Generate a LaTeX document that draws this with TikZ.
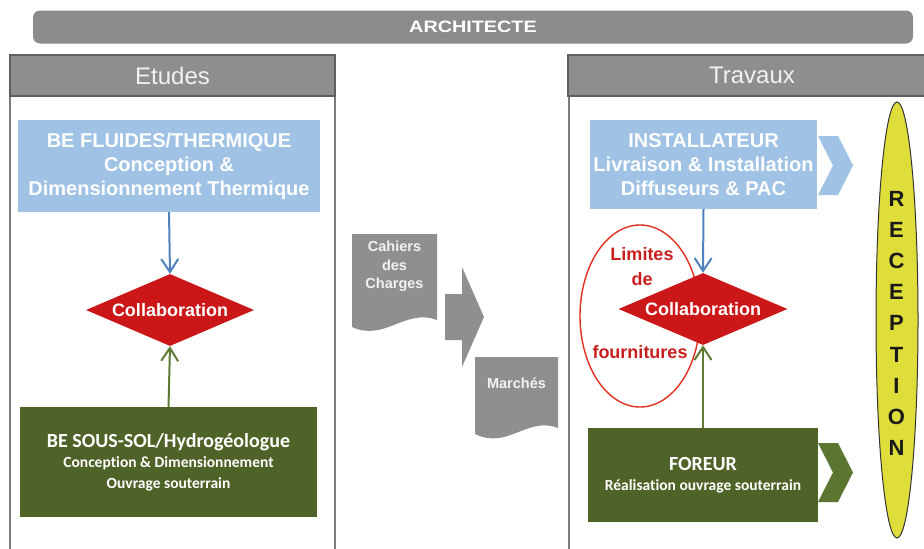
\documentclass[tikz,border=0pt]{standalone}
\usepackage{fontspec}
\usepackage{graphicx}
\setmainfont{Liberation Sans}
\newfontfamily\carlito[Ligatures=NoCommon]{Carlito}
\usetikzlibrary{shapes.geometric,arrows.meta}
\definecolor{bargray}{HTML}{8C8C8C}
\definecolor{hdrgray}{HTML}{8E8E8E}
\definecolor{hdredge}{HTML}{5E5E5E}
\definecolor{panelline}{HTML}{7A7A7A}
\definecolor{lblue}{HTML}{9FC2E5}
\definecolor{dgreen}{HTML}{4F6328}
\definecolor{chevgreen}{HTML}{5B7631}
\definecolor{dred}{HTML}{CC1719}
\definecolor{arrblue}{HTML}{4F81BD}
\definecolor{arrgreen}{HTML}{5F7A32}
\definecolor{ellred}{HTML}{E0301E}
\definecolor{txtred}{HTML}{C8201E}
\definecolor{docgray}{HTML}{8F8F8F}
\definecolor{doctext}{HTML}{F2F2F2}
\definecolor{recyellow}{HTML}{DEDD3A}
\newcommand{\fsz}[2]{\fontsize{#1}{#2}\selectfont}
\begin{document}
\begin{tikzpicture}[x=1pt,y=-1pt,
  topbar/.style={rectangle, rounded corners=7pt, fill=bargray, text=white,
    minimum width=880pt, minimum height=33pt, inner sep=0pt,
    font=\bfseries\fsz{16.5}{20}},
  hdr/.style={rectangle, fill=hdrgray, draw=hdredge, line width=1.2pt,
    text=doctext, minimum height=41pt, inner sep=0pt, font=\fsz{24}{28}},
  panel/.style={draw=panelline, line width=1.5pt},
  bluebox/.style={rectangle, fill=lblue, text=white, align=center,
    inner sep=0pt, font=\bfseries\fsz{20}{24}},
  greenbox/.style={rectangle, fill=dgreen, text=white, align=center,
    inner sep=0pt, font=\carlito\bfseries\fsz{15.5}{20.5}},
  collab/.style={diamond, fill=dred, text=white, inner sep=0pt, aspect=2.3,
    font=\bfseries\fsz{18}{20}},
  bluearr/.style={draw=arrblue, line width=2pt,
    -{Straight Barb[length=13pt,width=17pt]}},
  greenarr/.style={draw=arrgreen, line width=2pt,
    -{Straight Barb[length=13pt,width=17pt]}},
  redlabel/.style={text=txtred, inner sep=0pt, font=\bfseries\fsz{18}{20}},
  doclabel/.style={text=doctext, align=center, inner sep=0pt,
    font=\bfseries\fsz{14.5}{18.5}},
  letter/.style={inner sep=0pt, text=black!90, font=\bfseries\fsz{22}{22}}]

\useasboundingbox (0,0) rectangle (924,549);
\clip (0,0) rectangle (924,549);

% architect bar across the top
\node[topbar] (arch) at (473,27) {\scalebox{1.2}[1]{ARCHITECTE}};

% the two phase panels
\draw[panel] (10,96) rectangle (335,560);
\draw[panel] (569,96) rectangle (940,560);
\node[hdr, minimum width=325pt] (etudes) at (172.5,75.5) {Etudes};
\node[hdr, minimum width=368pt] (travaux) at (752,75.5) {Travaux};

% ---- Etudes ----
\node[bluebox, minimum width=302pt, minimum height=92pt] (fluides) at (169,166)
  {BE FLUIDES/THERMIQUE\\Conception \&\\Dimensionnement Thermique};
\node[collab, minimum width=168pt, minimum height=72pt] (collabL) at (170,310)
  {Collaboration};
\node[greenbox, minimum width=297pt, minimum height=110pt] (soussol) at (168.5,462)
  {{\fsz{20}{20.5}BE SOUS-SOL/Hydrogéologue}\\
   Conception \& Dimensionnement\\
   Ouvrage souterrain};
\draw[bluearr] (fluides.south) -- (collabL.north);
\draw[greenarr] (soussol.north) -- (collabL.south);

% ---- documents passed between phases ----
\fill[docgray] (352,234) -- (437,234) -- (437,320)
  .. controls (405,308) and (385,342) .. (352,327) -- cycle;
\node[doclabel] (cahiers) at (394.5,266.5) {Cahiers\\des\\Charges};
\fill[docgray] (445,294) -- (462,294) -- (462,267) -- (484,317)
  -- (462,367) -- (462,340) -- (445,340) -- cycle;
\fill[docgray] (475,357) -- (558,357) -- (558,428)
  .. controls (527,416) and (508,450) .. (475,434) -- cycle;
\node[doclabel] (marches) at (516.5,383) {Marchés};

% ---- Travaux ----
\draw[ellred, line width=1.4pt] (640,316) ellipse [x radius=60, y radius=91];
\node[bluebox, minimum width=227pt, minimum height=89pt] (install) at (703.5,164.5)
  {INSTALLATEUR\\Livraison \& Installation\\Diffuseurs \& PAC};
\fill[lblue] (818,136) -- (838,136) -- (853,165.5) -- (838,195) -- (818,195)
  -- (833,165.5) -- cycle;
\node[collab, minimum width=169pt, minimum height=72pt] (collabR) at (703,309)
  {Collaboration};
\node[greenbox, minimum width=230pt, minimum height=94pt] (foreur) at (703,475)
  {{\fsz{20}{20.5}FOREUR}\\
   Réalisation ouvrage souterrain};
\fill[chevgreen] (818,443) -- (838,443) -- (853,472.5) -- (838,502) -- (818,502)
  -- (833,472.5) -- cycle;
\draw[bluearr] (install.south) -- (collabR.north);
\draw[greenarr] (foreur.north) -- (collabR.south);
\node[redlabel] (limites) at (642,254) {Limites};
\node[redlabel] (de) at (642,279) {de};
\node[redlabel] (fourn) at (640,352) {fournitures};

% reception milestone
\draw[fill=recyellow, draw=black!80, line width=1pt] (897,320)
  ellipse [x radius=21, y radius=218];
\foreach \ch [count=\i from 0] in {R,E,C,E,P,T,I,O,N}
  \node[letter] (rec\i) at (896.5,199+31.1*\i) {\ch};
\end{tikzpicture}
\end{document}
